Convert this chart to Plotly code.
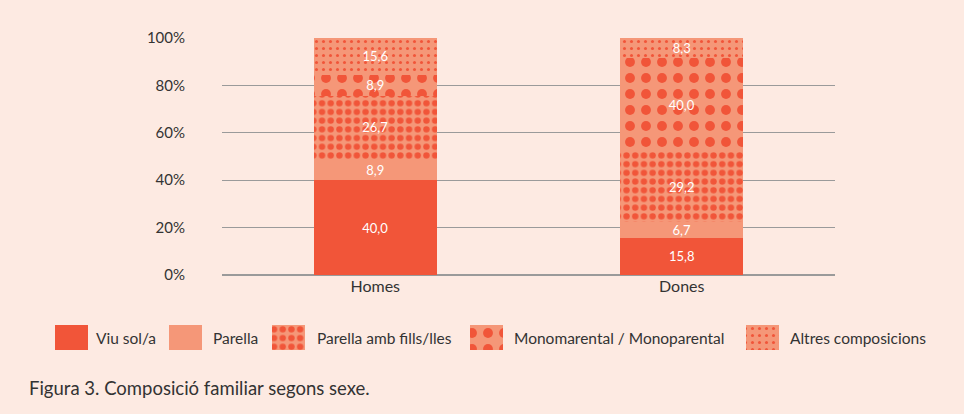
import plotly.graph_objects as go

categories = ["Homes", "Dones"]
series_names = ["Viu sol/a", "Parella", "Parella amb fills/lles", "Monomarental / Monoparental", "Altres composicions"]
viu_sol = [40.0, 15.8]
parella = [8.9, 6.7]
parella_fills = [26.7, 29.2]
monoparental = [8.9, 40.0]
altres = [15.6, 8.3]
tick_vals = [0, 20, 40, 60, 80, 100]
tick_text = ["0%", "20%", "40%", "60%", "80%", "100%"]
caption = "Figura 3. Composició familiar segons sexe."

W, H = 964, 414
DARK = "#F15539"
LIGHT = "#F59778"
BG = "#FDEAE2"
TXT = "#333333"

series = [viu_sol, parella, parella_fills, monoparental, altres]
styles = [
    dict(color=DARK),
    dict(color=LIGHT),
    dict(color=LIGHT, pattern=dict(shape=".", fgcolor=DARK, bgcolor=LIGHT, size=8.7, solidity=0.42, fillmode="replace")),
    dict(color=LIGHT, pattern=dict(shape=".", fgcolor=DARK, bgcolor=LIGHT, size=16, solidity=0.3, fillmode="replace")),
    dict(color=LIGHT, pattern=dict(shape=".", fgcolor=DARK, bgcolor=LIGHT, size=7, solidity=0.15, fillmode="replace")),
]

# legend layout (pixel positions of swatch left edges and label starts)
legend_swatch_left = [55, 169, 272, 470, 746]
legend_label_left = [94, 211, 315, 512, 788]
SW_W = 33
LEG_TOP, LEG_BOT = 325, 350

fig = go.Figure()
for name, vals, st in zip(series_names, series, styles):
    fig.add_trace(go.Bar(
        x=categories, y=vals, name=name, showlegend=False,
        marker=dict(line=dict(width=0), **st),
        text=[f"{v:.1f}".replace(".", ",") for v in vals],
        textposition="inside", insidetextanchor="middle", constraintext="none", textangle=0,
        textfont=dict(color="white", size=13, family="Lato"),
        width=0.4, xaxis="x", yaxis="y",
    ))

# custom legend swatches
for name, st, lx in zip(series_names, styles, legend_swatch_left):
    fig.add_trace(go.Bar(
        x=[lx + SW_W / 2], y=[1], base=[0], width=[SW_W], name=name, showlegend=False,
        marker=dict(line=dict(width=0), **st), xaxis="x2", yaxis="y2", hoverinfo="skip",
        textposition="none",
    ))

for name, tx in zip(series_names, legend_label_left):
    fig.add_annotation(text=name, xref="paper", yref="paper", x=tx / W,
                       y=1 - (LEG_TOP + LEG_BOT) / 2 / H, xanchor="left", yanchor="middle",
                       showarrow=False, font=dict(size=15.5, color=TXT, family="Lato"))

fig.add_annotation(text=caption, xref="paper", yref="paper", x=27 / W, y=1 - 388 / H,
                   xanchor="left", yanchor="middle", showarrow=False,
                   font=dict(size=18.5, color=TXT, family="Lato"))

fig.update_layout(
    barmode="stack",
    width=W, height=H,
    paper_bgcolor=BG, plot_bgcolor=BG,
    margin=dict(l=0, r=0, t=0, b=0, pad=0, autoexpand=False),
    font=dict(family="Lato", color=TXT, size=14),
    xaxis=dict(domain=[222 / W, 835 / W], showgrid=False, showline=False, ticks="",
               tickfont=dict(size=16, color=TXT), anchor="y", automargin=False),
    yaxis=dict(domain=[1 - 275 / H, 1 - 38 / H], range=[0, 100], tickvals=tick_vals, ticktext=tick_text,
               showgrid=True, gridcolor="#9a9a9a", gridwidth=1, zeroline=True, zerolinecolor="#9a9a9a",
               ticklabelstandoff=36, tickfont=dict(size=15, color=TXT), anchor="x", automargin=False),
    xaxis2=dict(domain=[0, 1], range=[0, W], visible=False, fixedrange=True, anchor="y2", automargin=False),
    yaxis2=dict(domain=[1 - LEG_BOT / H, 1 - LEG_TOP / H], range=[0, 1], visible=False,
                fixedrange=True, anchor="x2", automargin=False),
    showlegend=False,
)

fig.write_html("out.html", config={"displayModeBar": False},
               post_script="document.body.style.margin='0';document.body.style.background='#FDEAE2';")
